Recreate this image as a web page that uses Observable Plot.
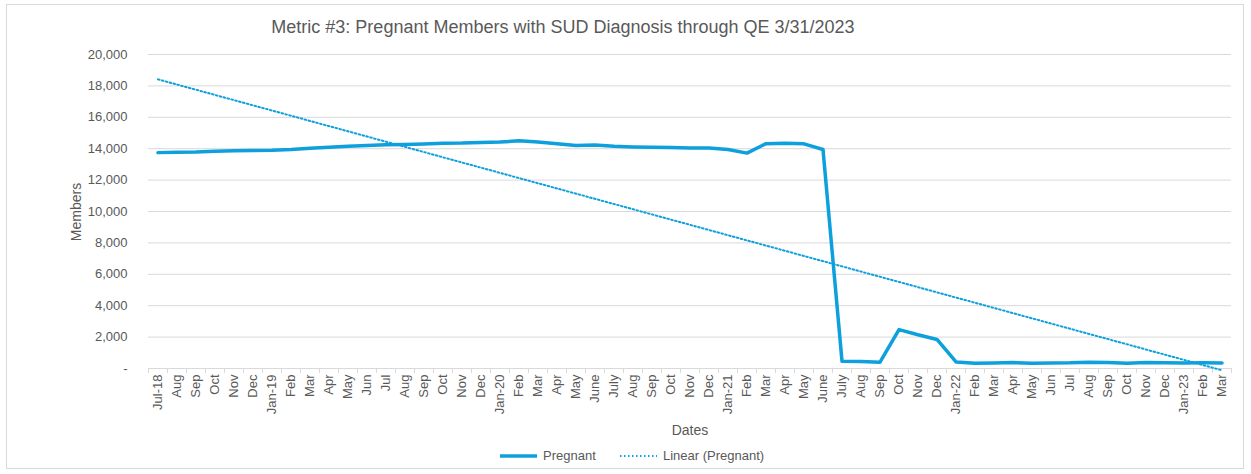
<!DOCTYPE html>
<html>
<head>
<meta charset="utf-8">
<script src="https://cdn.jsdelivr.net/npm/d3@7"></script>
<script src="https://cdn.jsdelivr.net/npm/@observablehq/plot@0.6"></script>
<style>
  body { margin: 0; background: #fff; font-family: "Liberation Sans", Arial, sans-serif; }
  #wrap { position: relative; width: 1251px; height: 474px; overflow: hidden; }
  #border { position: absolute; left: 6px; top: 4px; width: 1238px; height: 465px; border: 1px solid #d9d9d9; box-sizing: border-box; }
  #title { position: absolute; left: 0; width: 1126px; top: 17px; text-align: center; font-size: 18px; color: #595959; }
  #chart { position: absolute; left: 0; top: 0; }
  #ylab { position: absolute; left: 76px; top: 212px; transform: translate(-50%, -50%) rotate(-90deg); font-size: 14px; color: #595959; white-space: nowrap; }
  #xlab { position: absolute; left: 690px; top: 430px; transform: translate(-50%, -50%); font-size: 14px; color: #595959; }
  #legend { position: absolute; top: 447px; left: 0; width: 1251px; font-size: 13px; color: #595959; }
  .item { position: absolute; top: 0; height: 18px; line-height: 18px; }
  .item svg { position: absolute; top: 0; left: 0; }
  .item span { position: absolute; left: 43px; white-space: nowrap; }
</style>
</head>
<body>
<div id="wrap">
  <div id="border"></div>
  <div id="chart"></div>
  <div id="title">Metric #3: Pregnant Members with SUD Diagnosis through QE 3/31/2023</div>
  <div id="ylab">Members</div>
  <div id="xlab">Dates</div>
  <div id="legend">
    <div class="item" style="left:500px"><svg width="40" height="18"><line x1="0" x2="37" y1="9" y2="9" stroke="#0ea0dc" stroke-width="3.5"/></svg><span>Pregnant</span></div>
    <div class="item" style="left:620px"><svg width="40" height="18"><line x1="0" x2="37" y1="9" y2="9" stroke="#0ea0dc" stroke-width="2" stroke-dasharray="1.5,2.5"/></svg><span>Linear (Pregnant)</span></div>
  </div>
</div>
<script>
const labels = ["Jul-18","Aug","Sep","Oct","Nov","Dec","Jan-19","Feb","Mar","Apr","May","Jun",
  "Jul","Aug","Sep","Oct","Nov","Dec","Jan-20","Feb","Mar","Apr","May","June",
  "July","Aug","Sep","Oct","Nov","Dec","Jan-21","Feb","Mar","Apr","May","June",
  "July","Aug","Sep","Oct","Nov","Dec","Jan-22","Feb","Mar","Apr","May","Jun",
  "Jul","Aug","Sep","Oct","Nov","Dec","Jan-23","Feb","Mar"];
const pregnant = [13750,13780,13790,13830,13870,13880,13900,13950,14030,14100,14160,14200,
  14250,14270,14300,14350,14360,14400,14420,14500,14420,14320,14200,14230,
  14150,14110,14090,14070,14050,14040,13950,13720,14320,14340,14310,13950,
  460,450,400,2480,2150,1850,420,340,350,380,340,350,
  360,400,390,340,380,370,350,360,350];
const yTicks = [0,2000,4000,6000,8000,10000,12000,14000,16000,18000,20000];

const data = labels.map((l, i) => ({i, label: l, v: pregnant[i]}));
const color = "#0ea0dc";
const bounds = d3.range(labels.length + 1).map(k => k - 0.5);

const plot = Plot.plot({
  width: 1251,
  height: 445,
  marginTop: 54,
  marginLeft: 148,
  marginRight: 20,
  marginBottom: 77,
  style: {fontFamily: "'Liberation Sans', Arial, sans-serif", fontSize: "13px", color: "#595959", background: "transparent"},
  x: {type: "linear", domain: [-0.5, labels.length - 0.5]},
  y: {domain: [0, 20000]},
  marks: [
    Plot.gridY(yTicks, {stroke: "#d9d9d9", strokeOpacity: 1, strokeWidth: 1}),
    Plot.axisY(yTicks, {tickSize: 0, tickPadding: 21, fontSize: 13, fill: "#595959",
      tickFormat: d => d === 0 ? "-" : d3.format(",")(d), label: null}),
    Plot.axisX(bounds, {tickSize: 5, tickFormat: () => "", stroke: "#d9d9d9", label: null}),
    Plot.axisX(d3.range(labels.length), {tickSize: 0, tickPadding: 6, tickRotate: -90, fontSize: 13, fill: "#595959",
      tickFormat: i => labels[i], label: null}),
    Plot.ruleY([0], {stroke: "#d9d9d9"}),
    Plot.linearRegressionY(data, {x: "i", y: "v", ci: 0, stroke: color, strokeWidth: 2, strokeDasharray: "1.6,2.4"}),
    Plot.line(data, {x: "i", y: "v", stroke: color, strokeWidth: 3.5, strokeLinejoin: "round"})
  ]
});
document.getElementById("chart").appendChild(plot);
</script>
</body>
</html>
